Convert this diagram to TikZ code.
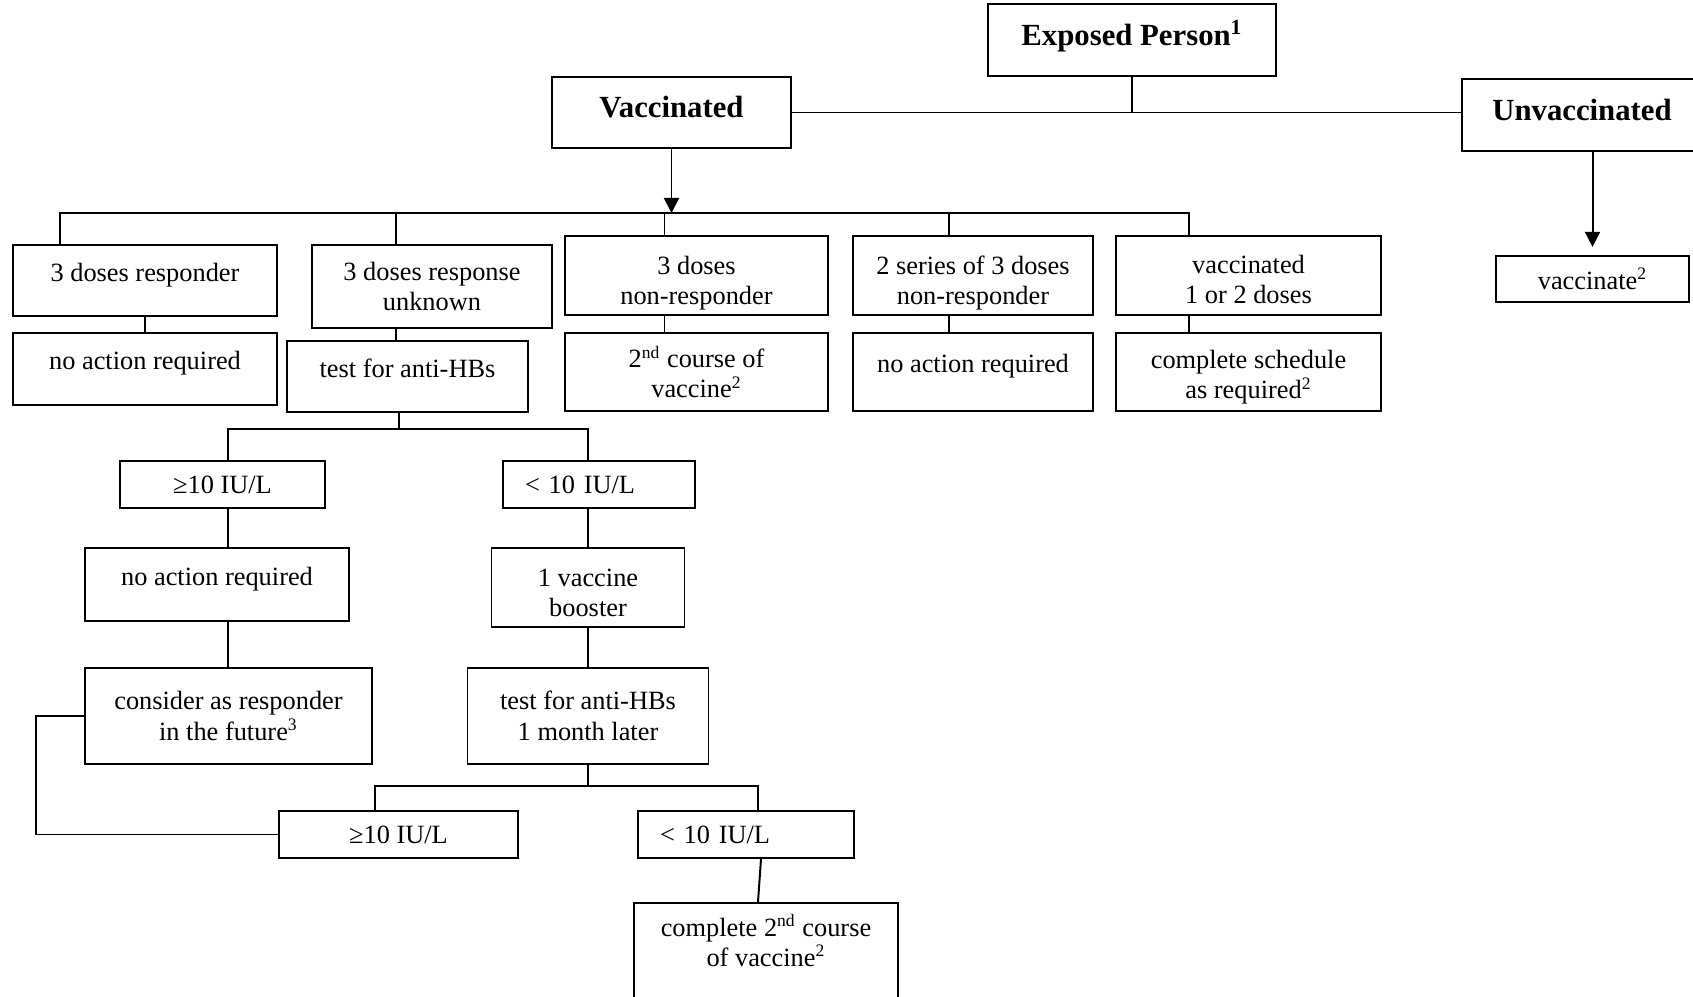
\documentclass[tikz,border=0pt]{standalone}
\usepackage{fontspec}
\setmainfont{Liberation Serif}
\usepackage{tikz}
\usetikzlibrary{arrows.meta,positioning}
\tikzset{
  caja/.style 2 args={draw,line width=0.9pt,minimum width=#1*0.16mm,minimum height=#2*0.16mm,inner sep=0pt,align=center},
  cabecera/.style={line width=1.1pt,font=\fontsize{14}{16}\selectfont\bfseries,text height=10pt,text depth=5pt},
  alto/.style={text height=9pt,text depth=8.3pt},
  izq/.style={align=left,text width=#1*0.16mm},
  linea/.style={line width=0.9pt},
  flecha/.style={line width=0.9pt,-{Triangle[length=2.4mm,width=2.4mm]}}
}
\newcommand{\baja}[1]{\rule{0pt}{#1}}
\begin{document}
\begin{tikzpicture}[x=0.16mm,y=-0.16mm,font=\fontsize{12}{13.8}\selectfont]
\useasboundingbox (0,0) rectangle (1693,997);
\node[caja={288}{72},cabecera] (EP) at (1132,40) {Exposed Person\textsuperscript{1}};
\node[caja={239}{71},cabecera] (VAC) at (671.5,112.5) {Vaccinated};
\node[caja={240}{72},cabecera] (UNV) at (1582,115) {Unvaccinated};
\node[caja={264}{71},alto] (R1) at (145,280.5) {3 doses responder};
\node[caja={240}{83}] (R2) at (432,286.5) {3 doses response\\unknown};
\node[caja={263}{79}] (R3) at (696.5,275.5) {\baja{15pt}3 doses\\non-responder};
\node[caja={240}{79}] (R4) at (973,275.5) {\baja{15pt}2 series of 3 doses\\non-responder};
\node[caja={265}{79}] (R5) at (1248.5,275.5) {\baja{12.2pt}vaccinated\\1 or 2 doses};
\node[caja={264}{72},alto] (A1) at (145,369) {no action required};
\node[caja={241}{71},alto] (A2) at (407.5,376.5) {test for anti-HBs};
\node[caja={263}{78}] (A3) at (696.5,372) {2\textsuperscript{nd} course of\\vaccine\textsuperscript{2}};
\node[caja={240}{78},alto] (A4) at (973,372) {no action required};
\node[caja={265}{78}] (A5) at (1248.5,372) {\baja{13pt}complete schedule\\as required\textsuperscript{2}};
\node[caja={193}{46}] (VN) at (1592.5,279) {vaccinate\textsuperscript{2}};
\node[caja={205}{47}] (L1) at (222.5,484.5) {≥10 IU/L};
\node[caja={192}{47},izq=148] (L2) at (599,484.5) {< 10 IU/L};
\node[caja={264}{73},alto] (N1) at (217,584.5) {no action required};
\node[caja={193}{79}] (N2) at (588,587.5) {\baja{12.6pt}1 vaccine\\booster};
\node[caja={287}{96}] (K1) at (228.5,716) {consider as responder\\in the future\textsuperscript{3}};
\node[caja={241}{96}] (K2) at (588,716) {test for anti-HBs\\1 month later};
\node[caja={239}{47}] (M1) at (398.5,834.5) {≥10 IU/L};
\node[caja={216}{47},izq=172] (M2) at (746,834.5) {< 10 IU/L};
\node[caja={264}{114}] (H) at (766,960) {complete 2\textsuperscript{nd} course\\of vaccine\textsuperscript{2}\\\strut};
\coordinate (b1) at (671.5,213);
\coordinate (b2) at (399,429);
\coordinate (b3) at (588,786);
\draw[linea] (VAC.east) -- (VAC.east -| UNV.west);
\draw[linea] (EP) -- (EP |- VAC.east);
\draw[flecha] (VAC) -- (b1);
\draw[flecha,shorten >=1.3mm] (UNV.south -| VN.north) -- (VN);
\draw[linea] ([xshift=-85*0.16mm]R1.north) |- (b1) -| ([xshift=-59.5*0.16mm]R5.north);
\foreach \n/\d in {R2/-36,R3/-32,R4/-24} \draw[linea] ([xshift=\d*0.16mm]\n.north) |- (b1);
\draw[linea] (R1) -- (A1);
\foreach \n/\m/\d in {R2/A2/-36,R3/A3/-32,R4/A4/-24,R5/A5/-59.5}
  \draw[linea] ([xshift=\d*0.16mm]\n.south) -- ([xshift=\d*0.16mm]\n.south |- \m.north);
\draw[linea] ([xshift=-8.5*0.16mm]A2.south) -- (b2);
\draw[linea] ([xshift=5.5*0.16mm]L1.north) |- (b2) -| (N2 |- L2.north);
\draw[linea] ([xshift=5.5*0.16mm]L1.south) -- ([xshift=5.5*0.16mm]L1.south |- N1.north);
\draw[linea] ([xshift=11*0.16mm]N1.south) -- ([xshift=11*0.16mm]N1.south |- K1.north);
\draw[linea] (N2) -- (N2 |- L2.south);
\draw[linea] (N2) -- (K2);
\draw[linea] (K2) -- (b3);
\draw[linea] ([xshift=-23.5*0.16mm]M1.north) |- (b3) -| ([xshift=12*0.16mm]M2.north);
\draw[linea] ([xshift=15*0.16mm]M2.south) -- ([xshift=-8*0.16mm]H.north);
\draw[linea] (M1.west) -- ++(-242,0) |- (K1.west);
\end{tikzpicture}
\end{document}
